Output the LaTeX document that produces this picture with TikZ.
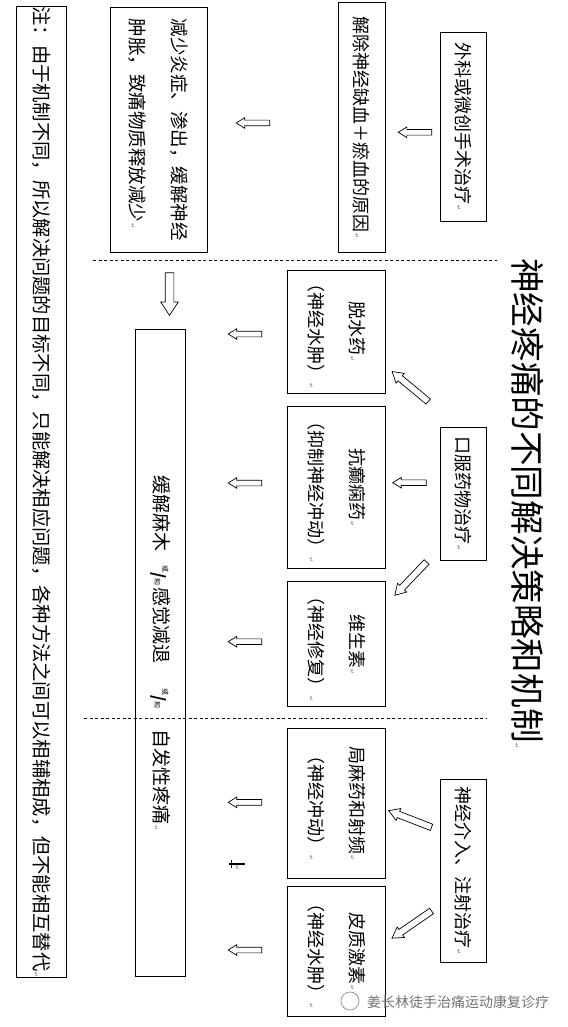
\documentclass[tikz,border=0pt]{standalone}
\usepackage{fontspec}
\setmainfont{Noto Sans CJK SC}
\newfontfamily\retfont{DejaVu Sans}
\usetikzlibrary{shapes.arrows}
\tikzstyle{box}=[draw, line width=0.8pt, rotate=-90, inner sep=0pt, align=center, font=\fontsize{18}{41}\selectfont]
\tikzstyle{flatarrow}=[draw, line width=0.7pt, single arrow, inner xsep=0pt, inner ysep=2.5pt, single arrow head extend=2.5pt, single arrow tip angle=64, minimum height=33.5pt, sloped, allow upside down]
\tikzstyle{slantarrow}=[flatarrow, inner ysep=3pt, single arrow head extend=3pt, single arrow tip angle=62]
\tikzstyle{droparrow}=[flatarrow, inner ysep=4pt, single arrow head extend=4.5pt, single arrow tip angle=67, minimum height=42.5pt]
\tikzstyle{divider}=[line width=0.8pt, dash pattern=on 3pt off 2.5pt]
\newcommand{\ret}{{\retfont\fontsize{6}{6}\selectfont\color{black!60}\,↵}}
\newcommand{\orand}{\raisebox{8.5pt}{\fontsize{7}{7}\selectfont 或}\raisebox{-1pt}{\fontsize{16}{16}\selectfont\bfseries /}\raisebox{0.5pt}{\fontsize{7}{7}\selectfont 和}}

\begin{document}
\begin{tikzpicture}[x=1pt, y=-1pt]
		\fill[white] (0, 0) rectangle (567, 1027);
		\useasboundingbox (0, 0) rectangle (567, 1027);
		% title and dividers
		\node(title)[rotate=-90, anchor=west, inner sep=0pt, font=\fontsize{34.6}{40}\selectfont] at (528, 258) {神经疼痛的不同解决策略和机制\ret};
		\draw[divider] (93, 260) -- (497, 260);
		\draw[divider] (84, 718.3) -- (486.4, 718.3);
		% treatments
		\node(surgery)[box, minimum width=188.7pt, minimum height=46pt] at (463.5, 126.7) {外科或微创手术治疗\ret};
		\node(oral)[box, minimum width=132.7pt, minimum height=46pt] at (463.5, 493.7) {口服药物治疗\ret};
		\node(inject)[box, minimum width=183pt, minimum height=46pt] at (463.5, 870.8) {神经介入、注射治疗\ret};
		% mechanisms
		\node(relief)[box, minimum width=249.6pt, minimum height=46.6pt] at (361.8, 127.5) {解除神经缺血＋瘀血的原因\ret};
		\node(dehydrant)[box, minimum width=122.6pt, minimum height=97.6pt] at (336.3, 332) {脱水药\ret\\（神经水肿）\ret};
		\node(antiepi)[box, minimum width=161.6pt, minimum height=97.6pt] at (336.3, 487.5) {抗癫痫药\ret\\（抑制神经冲动）\ret};
		\node(vitamin)[box, minimum width=125pt, minimum height=97.6pt] at (336.3, 644.2) {维生素\ret\\（神经修复）\ret};
		\node(anesth)[box, minimum width=150pt, minimum height=97.6pt] at (336.3, 803.3) {局麻药和射频\ret\\（神经冲动）\ret};
		\node(steroid)[box, minimum width=130pt, minimum height=97.6pt] at (336.3, 951.7) {皮质激素\ret\\（神经水肿）\ret};
		% effects
		\node(effect)[box, align=left, minimum width=245pt, minimum height=97pt, font=\fontsize{18.5}{42}\selectfont] at (158.8, 129.8) {减少炎症、渗出，缓解神经\\肿胀，致痛物质释放减少\ret};
		\node(goal)[box, minimum width=646.7pt, minimum height=50pt, font=\fontsize{19}{24}\selectfont] at (160.3, 652.7) {缓解麻木\hspace{14pt}\orand\hspace{2pt}感觉减退\hspace{25pt}\orand\hspace{21pt}自发性疼痛\ret};
		\node(note)[box, minimum width=969.4pt, minimum height=50pt, font=\fontsize{19.3}{24}\selectfont] at (41.2, 492) {注：由于机制不同，所以解决问题的目标不同，只能解决相应问题，各种方法之间可以相辅相成，但不能相互替代\ret};
		% arrow ends
		\coordinate(a1s) at (434, 132.3);	\coordinate(a1e) at (400.7, 132.3);
		\coordinate(a2s) at (272, 123);		\coordinate(a2e) at (238.5, 123);
		\coordinate(a3s) at (169.5, 269.5);	\coordinate(a3e) at (169.5, 312);
		\coordinate(a4s) at (430.3, 403.3);	\coordinate(a4e) at (394.2, 373.3);
		\coordinate(a5s) at (428.6, 482.7);	\coordinate(a5e) at (395, 482.7);
		\coordinate(a6s) at (428.5, 560);	\coordinate(a6e) at (396.7, 593.3);
		\coordinate(a7s) at (434, 828.3);	\coordinate(a7e) at (391.3, 811.7);
		\coordinate(a8s) at (434, 909.3);	\coordinate(a8e) at (394.2, 936.7);
		\coordinate(b1s) at (264, 334);		\coordinate(b1e) at (230.5, 334);
		\coordinate(b2s) at (264, 483);		\coordinate(b2e) at (230.5, 483);
		\coordinate(b3s) at (264, 641.7);	\coordinate(b3e) at (230.5, 641.7);
		\coordinate(b4s) at (264, 802.3);	\coordinate(b4e) at (230.5, 802.3);
		\coordinate(b5s) at (264, 950);		\coordinate(b5e) at (230.5, 950);
		% arrows
		\path (a1s) -- node(arr1)[flatarrow]{} (a1e);
		\path (a2s) -- node(arr2)[flatarrow]{} (a2e);
		\path (a3s) -- node(arr3)[droparrow]{} (a3e);
		\path (a4s) -- node(arr4)[slantarrow, minimum height=47pt]{} (a4e);
		\path (a5s) -- node(arr5)[flatarrow]{} (a5e);
		\path (a6s) -- node(arr6)[slantarrow, minimum height=46pt]{} (a6e);
		\path (a7s) -- node(arr7)[slantarrow, minimum height=46pt]{} (a7e);
		\path (a8s) -- node(arr8)[slantarrow, minimum height=48pt]{} (a8e);
		\path (b1s) -- node(arr9)[flatarrow]{} (b1e);
		\path (b2s) -- node(arr10)[flatarrow]{} (b2e);
		\path (b3s) -- node(arr11)[flatarrow]{} (b3e);
		\path (b4s) -- node(arr12)[flatarrow]{} (b4e);
		\path (b5s) -- node(arr13)[flatarrow]{} (b5e);
		% stray mark
		\draw[line width=1.6pt] (229, 864) -- (244.5, 864);
		\draw[line width=0.8pt] (231.5, 860) -- (231.5, 868);
		\node(stray)[rotate=-90, inner sep=0pt] at (237, 868) {\ret};
		% watermark
		\draw[black!40, line width=0.8pt] (350, 1001) circle (9pt);
		\node(mark)[anchor=west, inner sep=0pt, text=black!55, font=\fontsize{14}{14}\selectfont] at (367, 1002) {姜长林徒手治痛运动康复诊疗};
\end{tikzpicture}
\end{document}
